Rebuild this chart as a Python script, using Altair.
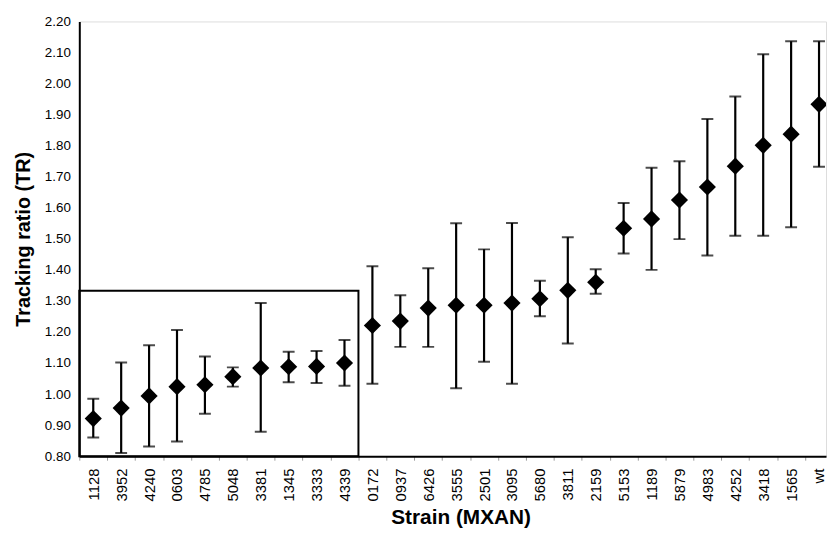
import altair as alt
import pandas as pd

strains = ["1128", "3952", "4240", "0603", "4785", "5048", "3381", "1345", "3333", "4339",
           "0172", "0937", "6426", "3555", "2501", "3095", "5680", "3811", "2159",
           "5153", "1189", "5879", "4983", "4252", "3418", "1565", "wt"]
tr_mean = [0.921, 0.955, 0.994, 1.024, 1.030, 1.056, 1.084, 1.088, 1.089, 1.100,
           1.221, 1.235, 1.277, 1.286, 1.286, 1.293, 1.307, 1.334, 1.360,
           1.534, 1.564, 1.625, 1.667, 1.734, 1.801, 1.837, 1.933]
tr_low = [0.860, 0.810, 0.831, 0.847, 0.937, 1.024, 0.879, 1.038, 1.036, 1.027,
          1.033, 1.152, 1.152, 1.019, 1.104, 1.033, 1.251, 1.163, 1.323,
          1.453, 1.400, 1.499, 1.446, 1.510, 1.510, 1.537, 1.732]
tr_high = [0.985, 1.102, 1.157, 1.206, 1.121, 1.086, 1.293, 1.136, 1.139, 1.174,
           1.412, 1.318, 1.405, 1.550, 1.466, 1.551, 1.365, 1.505, 1.402,
           1.615, 1.729, 1.750, 1.886, 1.958, 2.094, 2.136, 2.136]
y_ticks = [0.8, 0.9, 1.0, 1.1, 1.2, 1.3, 1.4, 1.5, 1.6, 1.7, 1.8, 1.9, 2.0, 2.1, 2.2]
box_x = [-0.5, 9.5]
box_y = [0.8, 1.333]

df = pd.DataFrame({"idx": list(range(len(strains))), "strain": strains,
                   "mean": tr_mean, "lo": tr_low, "hi": tr_high})
box_df = pd.DataFrame({"x1": [box_x[0]], "x2": [box_x[1]], "y1": [box_y[0]], "y2": [box_y[1]]})

FONT = "Liberation Sans"
names_js = "[" + ",".join("'" + s + "'" for s in strains) + "]"
x_vals = []
for i in range(len(strains)):
    x_vals.append(i - 0.5)
    x_vals.append(i)

x_scale = alt.Scale(domain=[-0.5, 26.25], nice=False, zero=False)
y_scale = alt.Scale(domain=[0.8, 2.2], nice=False, zero=False)

x_axis = alt.Axis(
    title="Strain (MXAN)", values=x_vals,
    labelExpr="datum.value % 1 === 0 ? " + names_js + "[datum.value] : ''",
    labelAngle=-90, labelFont=FONT, labelFontSize=15, labelColor="black",
    labelOverlap=False, labelFlush=False, labelPadding=8,
    tickColor="#999999", tickSize=4, tickWidth=1,
    tickOpacity={"condition": {"test": "datum.value % 1 === 0", "value": 0}, "value": 1},
    domainColor="black", domainWidth=2, grid=False,
    titleFont=FONT, titleFontSize=21, titleFontWeight="bold", titleColor="black",
    titlePadding=6, titleX=385,
)
y_axis = alt.Axis(
    title="Tracking ratio (TR)", values=y_ticks, format=".2f",
    labelFont=FONT, labelFontSize=13.5, labelColor="black", labelPadding=9,
    labelOverlap=False,
    ticks=False, domainColor="black", domainWidth=2, grid=False,
    titleFont=FONT, titleFontSize=20, titleFontWeight="bold", titleColor="black",
    titlePadding=11,
)

base = alt.Chart(df)
rules = base.mark_rule(color="black", strokeWidth=2.2, clip=True).encode(
    x=alt.X("idx:Q", scale=x_scale, axis=x_axis),
    y=alt.Y("lo:Q", scale=y_scale, axis=y_axis),
    y2="hi:Q",
)
caps_lo = base.mark_tick(color="black", orient="horizontal", size=12, thickness=2, clip=True).encode(
    x=alt.X("idx:Q", scale=x_scale, axis=x_axis), y=alt.Y("lo:Q", scale=y_scale, axis=y_axis))
caps_hi = base.mark_tick(color="black", orient="horizontal", size=12, thickness=2, clip=True).encode(
    x=alt.X("idx:Q", scale=x_scale, axis=x_axis), y=alt.Y("hi:Q", scale=y_scale, axis=y_axis))
points = base.mark_point(shape="diamond", filled=True, color="black", size=300, opacity=1, clip=True).encode(
    x=alt.X("idx:Q", scale=x_scale, axis=x_axis), y=alt.Y("mean:Q", scale=y_scale, axis=y_axis))
box = alt.Chart(box_df).mark_rect(fill=None, stroke="black", strokeWidth=2, fillOpacity=0).encode(
    x=alt.X("x1:Q", scale=x_scale, axis=x_axis), x2="x2:Q",
    y=alt.Y("y1:Q", scale=y_scale, axis=y_axis), y2="y2:Q")

chart = alt.layer(box, rules, caps_lo, caps_hi, points).properties(
    width=754, height=439,
    autosize=alt.AutoSizeParams(type="none"),
    padding={"left": 72, "top": 11, "right": 1, "bottom": 76},
).configure_view(stroke=None).configure(background="white")

chart.save("out.html", embed_options={"renderer": "svg", "actions": False})
